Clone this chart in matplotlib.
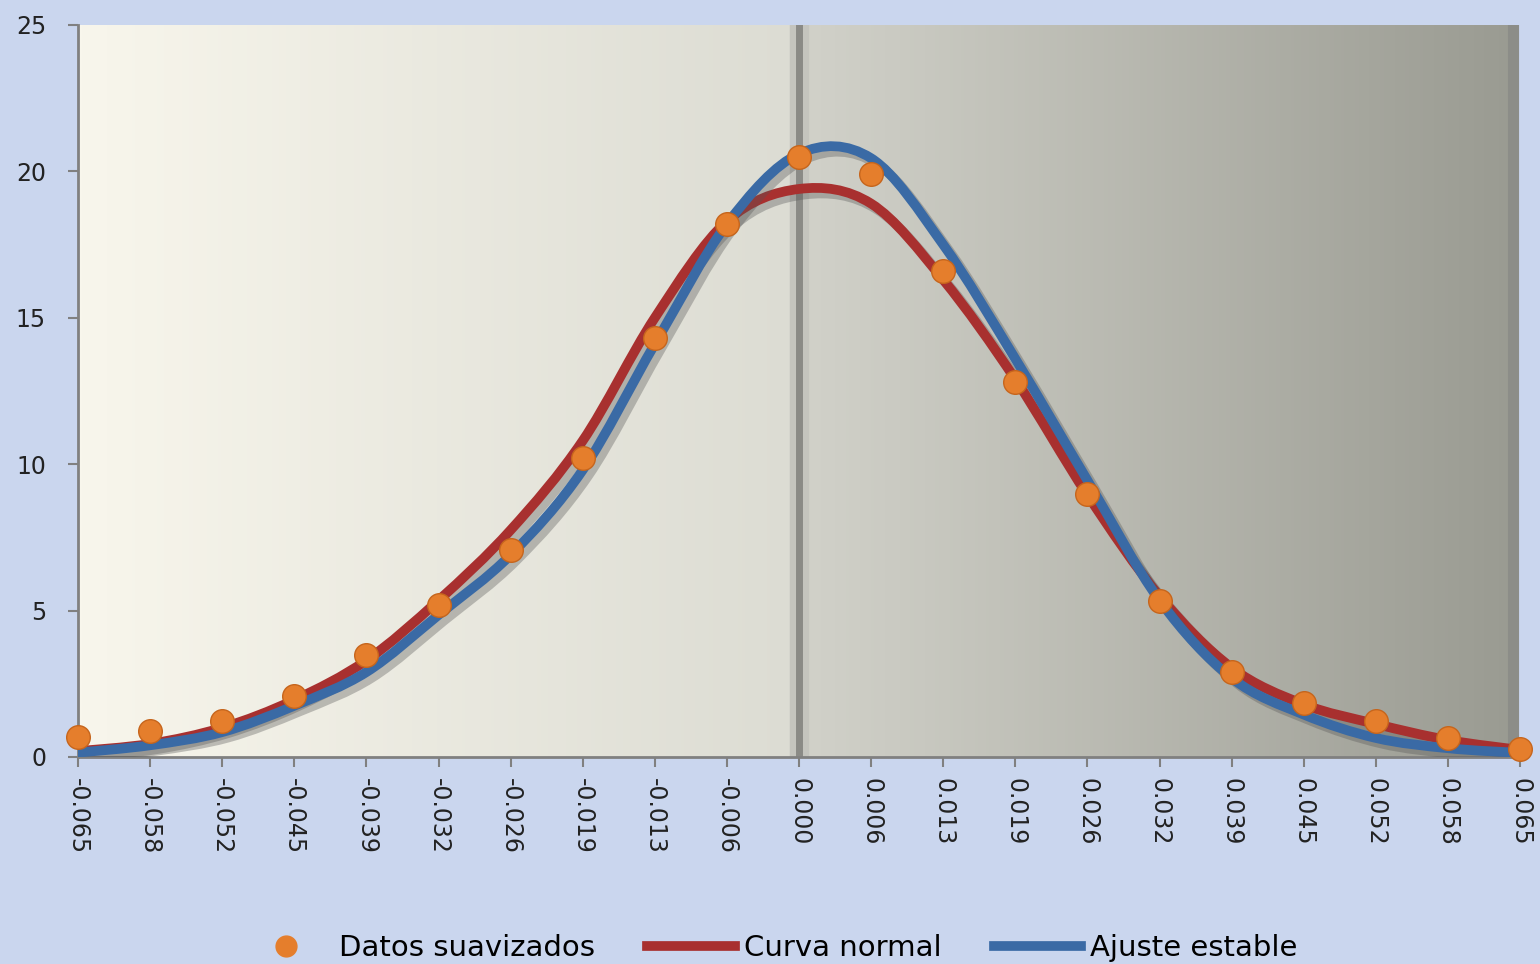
import matplotlib.pyplot as plt
import numpy as np
from matplotlib.path import Path
from matplotlib.patches import PathPatch
from matplotlib.lines import Line2D
import matplotlib.patheffects as pe
from matplotlib.colors import to_rgb

# categorias del eje x
categorias = ['-0.065', '-0.058', '-0.052', '-0.045', '-0.039', '-0.032', '-0.026',
              '-0.019', '-0.013', '-0.006', '0.000', '0.006', '0.013', '0.019',
              '0.026', '0.032', '0.039', '0.045', '0.052', '0.058', '0.065']

datos_suavizados = [0.68, 0.89, 1.23, 2.08, 3.48, 5.19, 7.07, 10.2, 14.3, 18.2, 20.5,
                    19.9, 16.6, 12.8, 8.98, 5.33, 2.9, 1.84, 1.23, 0.65, 0.27]
curva_normal = [0.2, 0.45, 1.0, 1.95, 3.3, 5.35, 7.75, 10.8, 15.0, 18.3, 19.4,
                18.9, 16.3, 12.9, 8.95, 5.5, 3.05, 1.8, 1.13, 0.58, 0.24]
ajuste_estable = [0.15, 0.4, 0.85, 1.75, 2.9, 4.85, 6.9, 9.8, 14.1, 18.2, 20.6,
                  20.45, 17.5, 13.6, 9.45, 5.35, 2.7, 1.45, 0.65, 0.3, 0.14]


def curva_suave(ax, x, y, color, lw, z):
    # suavizado tipo Excel (Catmull-Rom -> Bezier)
    x = np.asarray(x, float)
    y = np.asarray(y, float)
    verts = [(x[0], y[0])]
    codes = [Path.MOVETO]
    n = len(x)
    for i in range(n - 1):
        p0 = (x[max(i - 1, 0)], y[max(i - 1, 0)])
        p1 = (x[i], y[i])
        p2 = (x[i + 1], y[i + 1])
        p3 = (x[min(i + 2, n - 1)], y[min(i + 2, n - 1)])
        c1 = (p1[0] + (p2[0] - p0[0]) / 6, p1[1] + (p2[1] - p0[1]) / 6)
        c2 = (p2[0] - (p3[0] - p1[0]) / 6, p2[1] - (p3[1] - p1[1]) / 6)
        verts += [c1, c2, p2]
        codes += [Path.CURVE4] * 3
    patch = PathPatch(Path(verts, codes), facecolor='none', edgecolor=color, lw=lw,
                      capstyle='round', joinstyle='round', zorder=z)
    patch.set_path_effects([pe.SimpleLineShadow(offset=(4, -4), shadow_color='#555555', alpha=0.35),
                            pe.Normal()])
    ax.add_patch(patch)


fig = plt.figure(figsize=(15.4, 9.64), dpi=100)
fig.patch.set_facecolor('#cad6ee')
ax = fig.add_axes([78 / 1540, 1 - 757 / 964, (1520 - 78) / 1540, (757 - 25) / 964])
ax.set_facecolor('none')

xs = np.arange(len(categorias))
ax.set_xlim(0, 20)
ax.set_ylim(0, 25)

# fondo degradado del area de trazado
n = 400
t = np.linspace(0, 1, n)
izq0, izq1 = np.array(to_rgb('#f8f6ec')), np.array(to_rgb('#dcdcd3'))
der0, der1 = np.array(to_rgb('#d2d2ca')), np.array(to_rgb('#9a9b92'))
grad = np.zeros((1, n, 3))
for k, tt in enumerate(t):
    if tt < 0.5:
        grad[0, k] = izq0 + (izq1 - izq0) * (tt / 0.5)
    else:
        grad[0, k] = der0 + (der1 - der0) * ((tt - 0.5) / 0.5)
ax.imshow(grad, extent=(0, 19.9, 0, 25), aspect='auto', zorder=0)

# bandas grises verticales
ax.axvline(10, color='#c4c4be', lw=14, zorder=1)
ax.axvline(10, color='#8a8a86', lw=5, zorder=1)
ax.axvline(19.9, color='#8c8d88', lw=8, zorder=1)

curva_suave(ax, xs, curva_normal, '#a8302f', 7, 3)
curva_suave(ax, xs, ajuste_estable, '#3a6aa5', 7, 4)
ax.plot(xs, datos_suavizados, 'o', color='#e57e2c', markersize=17,
        markeredgecolor='#c6651c', markeredgewidth=1, zorder=5, clip_on=False)

ax.set_xticks(xs)
ax.set_xticklabels(categorias, rotation=270, fontsize=17, color='#222222')
ax.set_yticks([0, 5, 10, 15, 20, 25])
ax.set_yticklabels(['0', '5', '10', '15', '20', '25'], fontsize=17, color='#222222')
ax.tick_params(axis='both', direction='out', length=7, width=1.5, color='#808080', pad=8)
ax.tick_params(axis='y', pad=16)
for s in ['top', 'right']:
    ax.spines[s].set_visible(False)
for s in ['left', 'bottom']:
    ax.spines[s].set_color('#808080')
    ax.spines[s].set_linewidth(2)

handles = [Line2D([], [], marker='o', ls='none', color='#e57e2c', markersize=15),
           Line2D([], [], color='#a8302f', lw=7),
           Line2D([], [], color='#3a6aa5', lw=7)]
fig.legend(handles, ['Datos suavizados', 'Curva normal', 'Ajuste estable'],
           loc='lower center', bbox_to_anchor=(0.5, -0.025), ncol=3, frameon=False,
           fontsize=21, handlelength=3, handletextpad=0.3, columnspacing=1.8)

fig.savefig('out.png', dpi=100, facecolor=fig.get_facecolor())
